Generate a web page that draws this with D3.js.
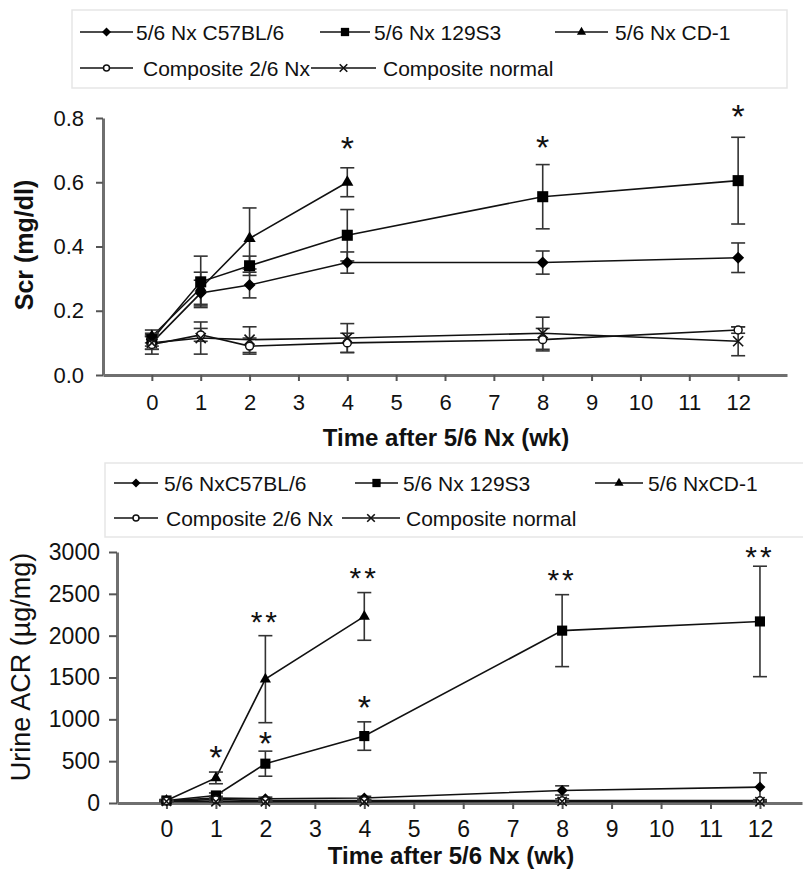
<!DOCTYPE html>
<html>
<head>
<meta charset="utf-8">
<script src="https://cdn.jsdelivr.net/npm/d3@7"></script>
<style>
  html, body { margin: 0; padding: 0; background: #fff; }
  svg { display: block; }
  text { font-family: "Liberation Sans", Arial, Helvetica, sans-serif; fill: #111; }
</style>
</head>
<body>
<svg id="chart" width="803" height="870"></svg>
<script>
// ---------------- DATA ----------------
const weeks = [0, 1, 2, 4, 8, 12];
const weeksCD1 = [0, 1, 2, 4];
const weekTickLabels = [0, 1, 2, 3, 4, 5, 6, 7, 8, 9, 10, 11, 12];

const namesTop = ["5/6 Nx C57BL/6", "5/6 Nx 129S3", "5/6 Nx CD-1", "Composite 2/6 Nx", "Composite normal"];
const namesBottom = ["5/6 NxC57BL/6", "5/6 Nx 129S3", "5/6 NxCD-1", "Composite 2/6 Nx", "Composite normal"];

// Serum creatinine (mg/dl)
const scrC57 = [0.10, 0.255, 0.28, 0.35, 0.35, 0.365];
const scrC57Err = [0.02, 0.04, 0.04, 0.033, 0.036, 0.046];
const scr129 = [0.11, 0.29, 0.34, 0.435, 0.555, 0.605];
const scr129Err = [0.02, 0.08, 0.03, 0.08, 0.10, 0.135];
const scrCD1 = [0.12, 0.27, 0.425, 0.60];
const scrCD1Err = [0.02, 0.05, 0.095, 0.045];
const scr26 = [0.095, 0.125, 0.09, 0.10, 0.11, 0.14];
const scr26Err = [0.03, 0.02, 0.025, 0.03, 0.035, 0.01];
const scrNorm = [0.10, 0.115, 0.11, 0.115, 0.13, 0.105];
const scrNormErr = [0.02, 0.05, 0.04, 0.045, 0.05, 0.045];
const scrTicks = [0, 0.2, 0.4, 0.6, 0.8];
const scrStars = [ {wk: 4, v: 0.727, t: "*"}, {wk: 8, v: 0.733, t: "*"}, {wk: 12, v: 0.827, t: "*"} ];

// Urine albumin/creatinine ratio (µg/mg)
const acrC57 = [30, 60, 50, 60, 150, 190];
const acrC57Err = [10, 20, 20, 20, 55, 170];
const acr129 = [30, 90, 470, 800, 2060, 2170];
const acr129Err = [10, 30, 150, 170, 430, 660];
const acrCD1 = [30, 300, 1480, 2230];
const acrCD1Err = [10, 70, 520, 285];
const acr26 = [25, 40, 30, 30, 30, 30];
const acr26Err = [5, 10, 10, 10, 20, 10];
const acrNorm = [20, 15, 15, 15, 20, 15];
const acrNormErr = [5, 5, 5, 5, 5, 5];
const acrTicks = [0, 500, 1000, 1500, 2000, 2500, 3000];
const acrStars = [
  {wk: 1, v: 637, t: "*"}, {wk: 2, v: 2250, t: "**"}, {wk: 2, v: 796, t: "*"},
  {wk: 4, v: 2768, t: "**"}, {wk: 4, v: 1235, t: "*"}, {wk: 8, v: 2749, t: "**"},
  {wk: 12, v: 3027, t: "**"}
];

// ---------------- HELPERS ----------------
const svg = d3.select("#chart");
const markerTypes = ["diamond", "square", "triangle", "circle", "x"];

function zip(xs, vs, es) { return xs.map((x, i) => ({wk: x, v: vs[i], e: es[i]})); }

function drawMarker(g, type, cx, cy, s) {
  if (type === "diamond") {
    g.append("path").attr("d", d3.symbol(d3.symbolSquare, s * s * 0.5)())
      .attr("transform", `translate(${cx},${cy}) rotate(45)`).attr("fill", "#000");
  } else if (type === "square") {
    g.append("path").attr("d", d3.symbol(d3.symbolSquare, s * s * 0.85)())
      .attr("transform", `translate(${cx},${cy})`).attr("fill", "#000");
  } else if (type === "triangle") {
    g.append("path").attr("d", d3.symbol(d3.symbolTriangle, s * s * 0.45)())
      .attr("transform", `translate(${cx},${cy})`).attr("fill", "#000");
  } else if (type === "circle") {
    g.append("circle").attr("cx", cx).attr("cy", cy).attr("r", s * 0.33)
      .attr("fill", "#fff").attr("stroke", "#111").attr("stroke-width", 1.5);
  } else if (type === "x") {
    const h = s * 0.42;
    const p = d3.path();
    p.moveTo(cx - h, cy - h); p.lineTo(cx + h, cy + h);
    p.moveTo(cx - h, cy + h); p.lineTo(cx + h, cy - h);
    g.append("path").attr("d", p.toString()).attr("stroke", "#111").attr("stroke-width", 1.6).attr("fill", "none");
  }
}

function drawPanel(cfg) {
  const g = svg.append("g");
  const x = d3.scaleLinear().domain(cfg.xDomain).range(cfg.xRange);
  const y = d3.scaleLinear().domain(cfg.yDomain).range(cfg.yRange);

  // axes
  const yAxis = d3.axisLeft(y).tickValues(cfg.yTicks).tickFormat(cfg.yFormat)
    .tickSizeInner(cfg.yTickLen).tickSizeOuter(0).tickPadding(cfg.yPad);
  const yg = g.append("g").attr("transform", `translate(${cfg.xRange[0]},0)`).call(yAxis);
  const xAxis = d3.axisBottom(x).tickValues(weekTickLabels).tickFormat(d3.format("d"))
    .tickSizeInner(6).tickSizeOuter(0).tickPadding(cfg.xPad);
  const xg = g.append("g").attr("transform", `translate(0,${cfg.yRange[0]})`).call(xAxis);
  [yg, xg].forEach(a => {
    a.select(".domain").attr("stroke", "#6f6f6f").attr("stroke-width", 3);
    a.selectAll(".tick line").attr("stroke", "#555").attr("stroke-width", 2);
    a.selectAll(".tick text").attr("font-size", cfg.tickFont).attr("fill", "#111")
      .style("font-family", '"Liberation Sans", Arial, sans-serif');
  });

  // axis titles
  g.append("text").attr("x", cfg.xTitlePos[0]).attr("y", cfg.xTitlePos[1])
    .attr("text-anchor", "middle").attr("font-size", 24).attr("font-weight", "bold")
    .text("Time after 5/6 Nx (wk)");
  g.append("text").attr("transform", `translate(${cfg.yTitlePos[0]},${cfg.yTitlePos[1]}) rotate(-90)`)
    .attr("text-anchor", "middle").attr("font-size", cfg.yTitleFont).attr("font-weight", cfg.yTitleWeight)
    .text(cfg.yTitle);

  const line = d3.line().x(d => x(d.wk)).y(d => y(d.v));

  // lines
  cfg.series.forEach(s => {
    g.append("path").datum(s.data).attr("d", line)
      .attr("fill", "none").attr("stroke", "#111").attr("stroke-width", 1.6);
  });
  // error bars
  cfg.series.forEach(s => {
    s.data.forEach(d => {
      const cx = x(d.wk), y1 = y(d.v + d.e), y0 = y(Math.max(0, d.v - d.e));
      const eg = g.append("g").attr("stroke", "#333").attr("stroke-width", 1.6);
      eg.append("line").attr("x1", cx).attr("x2", cx).attr("y1", y1).attr("y2", y0);
      eg.append("line").attr("x1", cx - cfg.cap).attr("x2", cx + cfg.cap).attr("y1", y1).attr("y2", y1);
      eg.append("line").attr("x1", cx - cfg.cap).attr("x2", cx + cfg.cap).attr("y1", y0).attr("y2", y0);
    });
  });
  // markers
  cfg.series.forEach(s => {
    s.data.forEach(d => drawMarker(g, s.type, x(d.wk), y(d.v), cfg.markerSize));
  });
  // significance stars
  cfg.stars.forEach(st => {
    const fs = st.t.length > 1 ? cfg.starFont2 : cfg.starFont;
    g.append("text").attr("x", x(st.wk)).attr("y", y(st.v) + fs * 0.56)
      .attr("text-anchor", "middle").attr("font-size", fs)
      .attr("letter-spacing", st.t.length > 1 ? 3 : 0)
      .text(st.t);
  });

  // legend
  const L = cfg.legend;
  g.append("rect").attr("x", L.box[0]).attr("y", L.box[1]).attr("width", L.box[2]).attr("height", L.box[3])
    .attr("fill", "none").attr("stroke", "#e6e6e6").attr("stroke-width", 1.5);
  L.items.forEach((it, i) => {
    const ly = L.rows[it.row];
    g.append("line").attr("x1", it.x0).attr("x2", it.x1).attr("y1", ly).attr("y2", ly)
      .attr("stroke", "#111").attr("stroke-width", 1.6);
    drawMarker(g, markerTypes[i], (it.x0 + it.x1) / 2, ly, L.markerSize);
    g.append("text").attr("x", it.tx).attr("y", ly + L.font * 0.36).attr("font-size", L.font)
      .text(cfg.names[i]);
  });
}

// ---------------- PANELS ----------------
drawPanel({
  xDomain: [-1, 13], xRange: [103, 787],
  yDomain: [0, 0.8], yRange: [375, 118],
  yTicks: scrTicks, yFormat: d3.format(".1f"), yTickLen: 7, yPad: 12, xPad: 13,
  tickFont: 22,
  xTitlePos: [446, 446], yTitlePos: [33, 245], yTitle: "Scr (mg/dl)", yTitleFont: 25, yTitleWeight: "bold",
  cap: 7, markerSize: 12, starFont: 34, starFont2: 30,
  names: namesTop,
  series: [
    {type: "diamond", data: zip(weeks, scrC57, scrC57Err)},
    {type: "square", data: zip(weeks, scr129, scr129Err)},
    {type: "triangle", data: zip(weeksCD1, scrCD1, scrCD1Err)},
    {type: "circle", data: zip(weeks, scr26, scr26Err)},
    {type: "x", data: zip(weeks, scrNorm, scrNormErr)}
  ],
  stars: scrStars,
  legend: {
    box: [72, 10, 715, 78], rows: [32, 68], font: 21, markerSize: 9,
    items: [
      {row: 0, x0: 80, x1: 133, tx: 136},
      {row: 0, x0: 320, x1: 370, tx: 374},
      {row: 0, x0: 555, x1: 608, tx: 615},
      {row: 1, x0: 80, x1: 133, tx: 143},
      {row: 1, x0: 311, x1: 376, tx: 383}
    ]
  }
});

drawPanel({
  xDomain: [-1, 12.85], xRange: [117, 802],
  yDomain: [0, 3000], yRange: [803, 552],
  yTicks: acrTicks, yFormat: d3.format("d"), yTickLen: 8, yPad: 9, xPad: 12,
  tickFont: 23,
  xTitlePos: [451, 864], yTitlePos: [30, 667], yTitle: "Urine ACR (\u00b5g/mg)", yTitleFont: 27, yTitleWeight: "normal",
  cap: 7, markerSize: 11, starFont: 34, starFont2: 30,
  names: namesBottom,
  series: [
    {type: "diamond", data: zip(weeks, acrC57, acrC57Err)},
    {type: "square", data: zip(weeks, acr129, acr129Err)},
    {type: "triangle", data: zip(weeksCD1, acrCD1, acrCD1Err)},
    {type: "circle", data: zip(weeks, acr26, acr26Err)},
    {type: "x", data: zip(weeks, acrNorm, acrNormErr)}
  ],
  stars: acrStars,
  legend: {
    box: [105, 463, 710, 74], rows: [483, 518], font: 21, markerSize: 9,
    items: [
      {row: 0, x0: 114, x1: 158, tx: 164},
      {row: 0, x0: 355, x1: 398, tx: 403},
      {row: 0, x0: 595, x1: 643, tx: 648},
      {row: 1, x0: 114, x1: 158, tx: 166},
      {row: 1, x0: 342, x1: 400, tx: 406}
    ]
  }
});
</script>
</body>
</html>
